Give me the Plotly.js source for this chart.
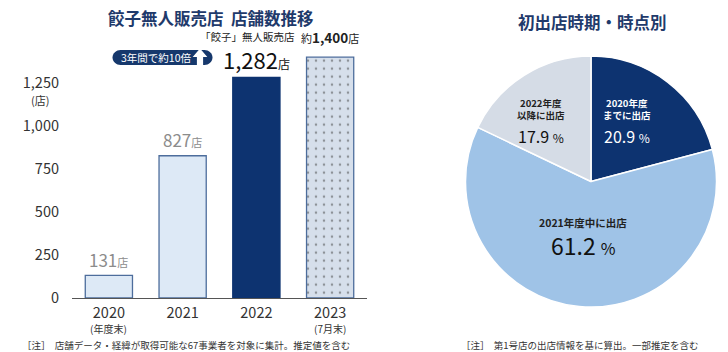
<!DOCTYPE html>
<html><head><meta charset="utf-8">
<script src="https://cdn.plot.ly/plotly-3.0.1.min.js"></script>
<style>html,body{margin:0;padding:0;background:#fff}#c{width:728px;height:352px}</style>
</head><body><div id="c"></div>
<script>
// ---- data ----
const years = ["2020", "2021", "2022", "2023"];
const yearSub = ["(年度末)", "", "", "(7月末)"];
const stores = [131, 827, 1282, 1400];
const storeLabels = ["131", "827", "1,282", "1,400"];
const yTicks = [0, 250, 500, 750, 1000, 1250];
const yTickText = ["0", "250", "500", "750", "1,000", "1,250"];
const pieLabels = ["2020年度までに出店", "2021年度中に出店", "2022年度以降に出店"];
const pieValues = [20.9, 61.2, 17.9];

const JP = '"Noto Sans CJK JP", "Noto Sans", sans-serif';
const NAVY = '#0d3370';
const TITLE = '#1f3a6b';

const bar = {
  type: 'bar', x: years, y: stores, width: 0.64,
  marker: {
    color: ['#dde9f6', '#dde9f6', NAVY, '#d6dfeb'],
    line: {color: ['#4d6d9c', '#4d6d9c', NAVY, '#4d6d9c'], width: 1.3},
    pattern: {shape: ['', '', '', '.'], fillmode: 'overlay', fgcolor: '#99abc7', size: 8, solidity: 0.08}
  },
  hoverinfo: 'none', showlegend: false
};

const pie = {
  type: 'pie', labels: pieLabels, values: pieValues, sort: false, direction: 'clockwise', rotation: 0,
  marker: {colors: [NAVY, '#9fc3e7', '#d5dce6'], line: {color: '#ffffff', width: 1.5}},
  textinfo: 'none', hoverinfo: 'none', showlegend: false,
  domain: {x: [465.5/728, 716.5/728], y: [45/352, 296/352]}
};

const P = (x, y, text, size, color, extra) => Object.assign({xref:'paper', yref:'paper', x:x/728, y:1-y/352, text:text, showarrow:false, font:{family:JP, size:size, color:color}, xanchor:'center', yanchor:'middle'}, extra || {});

const ann = [];
// titles
ann.push(P(211, 18, '<b>餃子無人販売店  店舗数推移</b>', 16.5, TITLE));
ann.push(P(592, 22, '<b>初出店時期・時点別</b>', 16.5, TITLE));
// unit
ann.push(P(40, 100, '(店)', 11, '#333'));
// x sublabels
years.forEach((yr, i) => {
  if (yearSub[i]) ann.push({x:i, y:0, xref:'x', yref:'y', text:yearSub[i], showarrow:false, yshift:-30, font:{family:JP, size:10, color:'#333'}, yanchor:'middle'});
});
// value labels
ann.push({x:0, y:stores[0], xref:'x', yref:'y', text:storeLabels[0]+'<span style="font-size:11px">店</span>', showarrow:false, yanchor:'bottom', yshift:1, font:{family:JP, size:17, color:'#8c8c8c'}});
ann.push({x:1, y:stores[1], xref:'x', yref:'y', text:storeLabels[1]+'<span style="font-size:11px">店</span>', showarrow:false, yanchor:'bottom', yshift:2, font:{family:JP, size:17, color:'#8c8c8c'}});
ann.push({x:2, y:stores[2], xref:'x', yref:'y', text:storeLabels[2]+'<span style="font-size:12px">店</span>', showarrow:false, yanchor:'bottom', yshift:1, font:{family:JP, size:22, color:'#111'}});
ann.push({x:2, y:stores[2], xref:'x', yref:'y', text:'「餃子」無人販売店', showarrow:false, yanchor:'bottom', xshift:-9, yshift:32, font:{family:JP, size:10.5, color:'#222'}});
ann.push({x:3, y:stores[3], xref:'x', yref:'y', text:'<span style="font-size:11px">約</span><b>'+storeLabels[3]+'</b><span style="font-size:11px">店</span>', showarrow:false, yanchor:'bottom', yshift:8, font:{family:JP, size:13.5, color:'#222'}});
// badge text
ann.push(P(156, 57.5, '3年間で約10倍', 10.5, '#fff'));
// pie labels
ann.push(P(627, 109.5, '<b>2020年度<br>までに出店</b>', 9.5, '#fff'));
ann.push(P(627, 135.5, '20.9 <span style="font-size:12px">%</span>', 16, '#fff'));
ann.push(P(541, 109.5, '<b>2022年度<br>以降に出店</b>', 9.5, '#222'));
ann.push(P(541, 135.5, '17.9 <span style="font-size:12px">%</span>', 16, '#111'));
ann.push(P(583, 222, '<b>2021年度中に出店</b>', 10.5, '#222'));
ann.push(P(583, 245, '61.2 <span style="font-size:16px">%</span>', 23, '#111'));
// footnotes
ann.push(P(20, 345, '［注］  店舗データ・経緯が取得可能な67事業者を対象に集計。推定値を含む', 9.5, '#333', {xanchor:'left'}));
ann.push(P(459, 345, '［注］  第1号店の出店情報を基に算出。一部推定を含む', 9.5, '#333', {xanchor:'left'}));

const pill = 'M -42,7.5 L 42,7.5 C 46.1,7.5 50,4.1 50,0 C 50,-4.1 46.1,-7.5 42,-7.5 L -42,-7.5 C -46.1,-7.5 -50,-4.1 -50,0 C -50,4.1 -46.1,7.5 -42,7.5 Z';
const arrow = 'M 0,8 L 6,1 L 2.5,1 L 2.5,-8 L -2.5,-8 L -2.5,1 L -6,1 Z';
const shapes = [
  {type:'path', xref:'paper', yref:'paper', xsizemode:'pixel', ysizemode:'pixel', xanchor:162.5/728, yanchor:1-57.5/352, path:pill, fillcolor:'#16386c', line:{width:0}},
  {type:'path', xref:'paper', yref:'paper', xsizemode:'pixel', ysizemode:'pixel', xanchor:200/728, yanchor:1-57.5/352, path:arrow, fillcolor:'#ffffff', line:{width:1.2, color:'#ffffff'}}
];

const layout = {
  width: 728, height: 352, margin: {l:0, r:0, t:0, b:0},
  paper_bgcolor: '#fff', plot_bgcolor: '#fff',
  font: {family: JP, color: '#333'},
  bargap: 0.36,
  xaxis: {domain: [72/728, 367/728], range: [-0.5, 3.5], type: 'category', showline: true, linecolor: '#555', linewidth: 1,
          showgrid: false, ticks: '', tickfont: {family: JP, size: 14.5, color: '#333'}, ticklabelstandoff: 2, fixedrange: true},
  yaxis: {domain: [54/352, 303.4/352], range: [0, 1450], tickvals: yTicks, ticktext: yTickText, showgrid: false, zeroline: false,
          showline: false, ticks: '', tickfont: {family: JP, size: 14.5, color: '#333'}, ticklabelstandoff: 12, fixedrange: true},
  annotations: ann, shapes: shapes
};

Plotly.newPlot('c', [bar, pie], layout, {staticPlot: true, displayModeBar: false});
</script></body></html>
